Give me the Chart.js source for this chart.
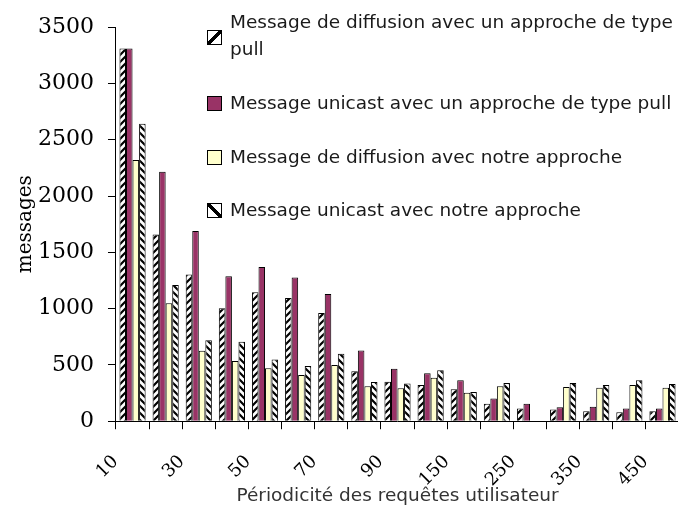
<!DOCTYPE html>
<html>
<head>
<meta charset="utf-8">
<script src="https://cdn.jsdelivr.net/npm/chart.js@4.4.1/dist/chart.umd.min.js"></script>
<style>
html, body { margin: 0; padding: 0; background: #fff; overflow: hidden; }
#wrap { position: relative; width: 700px; height: 511px; }
#legend { position: absolute; left: 0; top: 0; font-family: "DejaVu Sans", sans-serif; font-size: 18.5px; color: #1a1a1a; }
.box { position: absolute; left: 207px; width: 13px; height: 13px; border: 1px solid #000; box-sizing: content-box; }
.txt { position: absolute; left: 230px; width: 460px; line-height: 27px; }
</style>
</head>
<body>
<div id="wrap">
  <canvas id="chart"></canvas>
  <div id="legend"></div>
</div>
<script>
// data
const periods = ['10', '20', '30', '40', '50', '60', '70', '80', '90', '100', '150', '200', '250', '300', '350', '400', '450'];
const diffusionPull = [3310, 1658, 1304, 1004, 1146, 1095, 961, 443, 351, 321, 283, 155, 113, 104, 89, 80, 89];
const unicastPull = [3310, 2217, 1690, 1288, 1369, 1277, 1131, 628, 467, 426, 363, 202, 155, 125, 128, 113, 113];
const diffusionOurs = [2321, 1048, 625, 536, 470, 411, 500, 310, 292, 387, 253, 310, 0, 304, 298, 321, 298];
const unicastOurs = [2643, 1211, 720, 705, 548, 491, 600, 348, 336, 452, 259, 339, 5, 339, 321, 363, 330];
const seriesNames = [
    'Message de diffusion avec un approche de type pull',
    'Message unicast avec un approche de type pull',
    'Message de diffusion avec notre approche',
    'Message unicast avec notre approche'
];

const ctx = document.getElementById('chart').getContext('2d');

// hatch fill: '/' or '\'
function hatch(dir) {
    const s = 7;
    const c = document.createElement('canvas');
    c.width = s; c.height = s;
    const g = c.getContext('2d');
    g.fillStyle = '#fff';
    g.fillRect(0, 0, s, s);
    g.strokeStyle = '#000';
    g.lineWidth = 2.2;
    g.beginPath();
    if (dir === '/') {
        g.moveTo(-1, 1); g.lineTo(1, -1);
        g.moveTo(0, s); g.lineTo(s, 0);
        g.moveTo(s - 1, s + 1); g.lineTo(s + 1, s - 1);
    } else {
        g.moveTo(-1, s - 1); g.lineTo(1, s + 1);
        g.moveTo(0, 0); g.lineTo(s, s);
        g.moveTo(s - 1, -1); g.lineTo(s + 1, 1);
    }
    g.stroke();
    return ctx.createPattern(c, 'repeat');
}

const fills = [hatch('/'), '#993366', '#ffffcc', hatch('\\')];
const legendFills = [
    'linear-gradient(to bottom right, #fff 40%, #000 40%, #000 60%, #fff 60%)',
    '#993366',
    '#ffffcc',
    'linear-gradient(to top right, #fff 40%, #000 40%, #000 60%, #fff 60%)'
];
const series = [diffusionPull, unicastPull, diffusionOurs, unicastOurs];

new Chart(ctx, {
    type: 'bar',
    data: {
        labels: periods,
        datasets: series.map((vals, i) => ({
            label: seriesNames[i],
            data: vals,
            backgroundColor: fills[i],
            borderColor: '#000',
            borderWidth: 1,
            categoryPercentage: 0.79,
            barPercentage: 1
        }))
    },
    options: {
        responsive: true,
        maintainAspectRatio: false,
        animation: false,
        devicePixelRatio: 1,
        layout: { padding: { left: 0, top: 15, right: 8, bottom: 4 } },
        plugins: { legend: { display: false }, tooltip: { enabled: false } },
        scales: {
            x: {
                grid: { drawOnChartArea: false, color: '#000', tickLength: 8 },
                border: { color: '#000' },
                ticks: {
                    autoSkip: false, minRotation: 45, maxRotation: 45,
                    padding: 22, labelOffset: -17, color: '#000',
                    font: { family: 'DejaVu Serif', size: 18 },
                    callback: (v, i) => (i % 2 === 0 ? periods[i] : '')
                },
                title: {
                    display: true, text: 'Périodicité des requêtes utilisateur', color: '#333',
                    font: { family: 'DejaVu Sans', size: 18.5 }, padding: { top: -28, bottom: 0 }
                }
            },
            y: {
                min: 0, max: 3500,
                grid: { drawOnChartArea: false, color: '#000', tickLength: 8 },
                border: { color: '#000' },
                ticks: {
                    stepSize: 500, padding: 14, color: '#000',
                    font: { family: 'DejaVu Serif', size: 22 },
                    callback: v => String(v)
                },
                title: {
                    display: true, text: 'messages', color: '#000',
                    font: { family: 'DejaVu Serif', size: 20 }, padding: { top: 14, bottom: -14 }
                }
            }
        }
    }
});

// legend on top of the plot
const legend = document.getElementById('legend');
const boxTops = [30, 96, 150, 203];
const textTops = [8, 89, 143, 196];
seriesNames.forEach((name, i) => {
    const b = document.createElement('div');
    b.className = 'box';
    b.style.top = boxTops[i] + 'px';
    b.style.background = legendFills[i];
    legend.appendChild(b);
    const t = document.createElement('div');
    t.className = 'txt';
    t.style.top = textTops[i] + 'px';
    t.textContent = name;
    legend.appendChild(t);
});
</script>
</body>
</html>
